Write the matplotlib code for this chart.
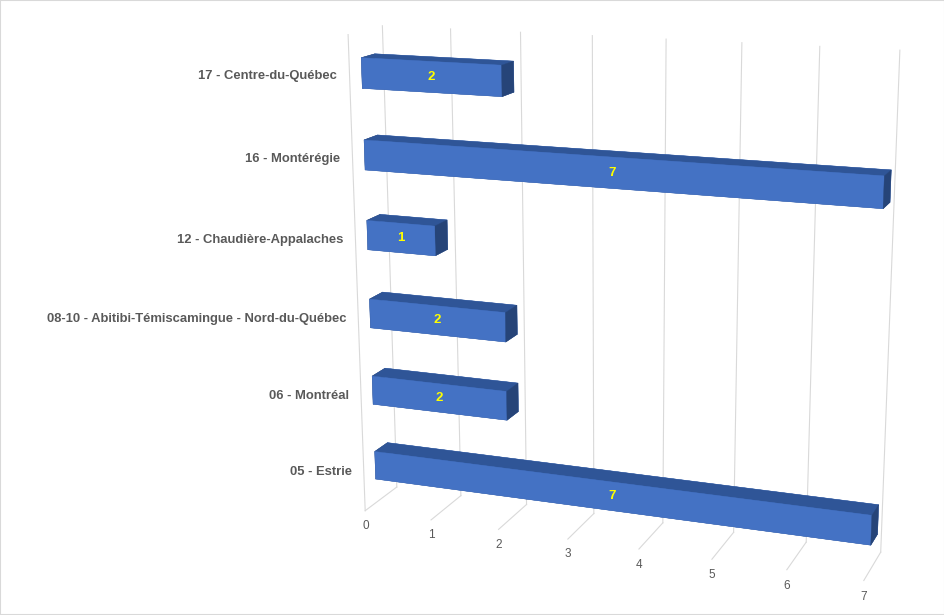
import matplotlib
matplotlib.use("Agg")
import matplotlib.pyplot as plt
from mpl_toolkits.mplot3d import Axes3D  # noqa: F401

plt.rcParams['font.family'] = ['Liberation Sans', 'DejaVu Sans']

# data (bottom to top, as drawn)
regions = ['05 - Estrie', '06 - Montréal',
           '08-10 - Abitibi-Témiscamingue - Nord-du-Québec',
           '12 - Chaudière-Appalaches', '16 - Montérégie', '17 - Centre-du-Québec']
counts = [7, 2, 2, 1, 7, 2]
ticks = [0, 1, 2, 3, 4, 5, 6, 7]

c_front = '#4472C4'
c_top = '#2F5597'
c_end = '#264478'
c_grid = '#D9D9D9'
c_text = '#595959'

bar_h = 0.37
y0, y1 = 0.35, 0.75

fig = plt.figure(figsize=(9.45, 6.15), dpi=100)
ax = fig.add_axes([0.2615, -0.075, 0.76, 1.16], projection='3d')
ax.set_proj_type('persp', focal_length=0.5)
ax.view_init(elev=15, azim=-70)
ax.set_box_aspect((7.15, 1, 6.7), zoom=1.011)
ax.computed_zorder = False
ax.set_axis_off()
ax.set_xlim(0, 7)
ax.set_ylim(0, 1)
ax.set_zlim(0, len(regions))

# gridlines on back wall and floor
for t in ticks:
    ax.plot([t, t], [1, 1], [0, len(regions)], color=c_grid, lw=0.8, zorder=1)
    ax.plot([t, t], [0, 1], [0, 0], color=c_grid, lw=0.8, zorder=1)
    ax.text(t, 0, -0.2, str(t), color=c_text, fontsize=8.5, ha='center', va='center')
ax.plot([0, 0], [0, 0], [0, len(regions)], color=c_grid, lw=0.8, zorder=1)

# bars
xs, ys, zs, dxs, dys, dzs, cols = [], [], [], [], [], [], []
for i, v in enumerate(counts):
    xs.append(0)
    ys.append(y0)
    zs.append(i + 0.5 - bar_h / 2)
    dxs.append(v)
    dys.append(y1 - y0)
    dzs.append(bar_h)
    cols += [c_top, c_top, c_front, c_front, c_end, c_end]
ax.bar3d(xs, ys, zs, dxs, dys, dzs, color=cols, shade=False,
         edgecolor=cols, linewidth=0.3, zorder=2)

for i, (name, v) in enumerate(zip(regions, counts)):
    ax.text(-0.18, 0, i + 0.5, name, color=c_text, fontsize=9.4, fontweight='bold',
            ha='right', va='center', zorder=5)
    ax.text(v / 2, y0, i + 0.5, str(v), color='#FFFF00', fontsize=9.5,
            fontweight='bold', ha='center', va='center', zorder=5)

fig.add_artist(plt.Rectangle((0, 0), 1, 1, transform=fig.transFigure,
                             fill=False, ec=c_grid, lw=1.5))
fig.savefig('out.png', dpi=100, facecolor='white')
